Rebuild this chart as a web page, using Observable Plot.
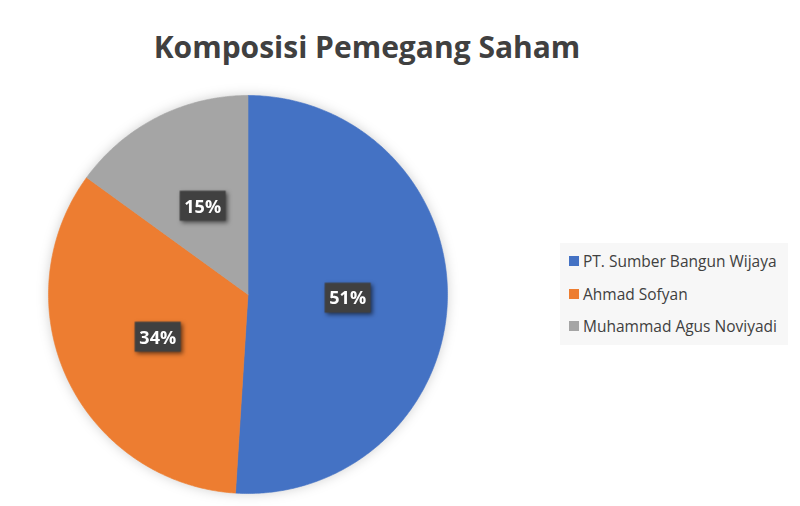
<!DOCTYPE html>
<html>
<head>
<meta charset="utf-8">
<script src="https://cdn.jsdelivr.net/npm/d3@7"></script>
<script src="https://cdn.jsdelivr.net/npm/@observablehq/plot@0.6"></script>
<style>
  html, body { margin: 0; padding: 0; background: #fff; }
  #wrap { position: relative; width: 800px; height: 506px; overflow: hidden; font-family: "Open Sans", sans-serif; }
  #title { position: absolute; left: 0; width: 734px; top: 26px; text-align: center; font-size: 30px; font-weight: 700; color: #404040; }
  #legend { position: absolute; left: 560px; top: 243px; width: 228px; height: 102px; background: #f7f7f7; box-sizing: border-box; padding-top: 2px; }
  .item { display: flex; align-items: center; height: 32.5px; padding-left: 9px; color: #404040; font-size: 15.5px; white-space: nowrap; }
  .sw { width: 10px; height: 10px; margin-right: 4px; flex: none; }
  #chart { position: absolute; left: 0; top: 0; }
  #chart g[aria-label="line"] { filter: drop-shadow(0 0 6px rgba(0,0,0,0.18)); }
  #chart g[aria-label="dot"] { filter: drop-shadow(2px 2px 2px rgba(0,0,0,0.55)); }
</style>
</head>
<body>
<div id="wrap">
  <div id="chart"></div>
  <div id="title"></div>
  <div id="legend"></div>
</div>
<script>
const titleText = "Komposisi Pemegang Saham";
const categories = ["PT. Sumber Bangun Wijaya", "Ahmad Sofyan", "Muhammad Agus Noviyadi"];
const shares = [51, 34, 15];
const colors = ["#4472C4", "#ED7D31", "#A5A5A5"];

document.getElementById("title").textContent = titleText;

const data = categories.map((name, i) => ({name, value: shares[i]}));
const arcs = d3.pie().sort(null).value(d => d.value)(data);

// Build slice polygons (unit circle coordinates, angle clockwise from top)
const pts = [];
for (const a of arcs) {
  const n = Math.max(2, Math.ceil((a.endAngle - a.startAngle) / 0.01));
  pts.push({name: a.data.name, x: 0, y: 0});
  for (let k = 0; k <= n; k++) {
    const t = a.startAngle + (a.endAngle - a.startAngle) * k / n;
    pts.push({name: a.data.name, x: Math.sin(t), y: Math.cos(t)});
  }
  pts.push({name: a.data.name, x: 0, y: 0});
}
const labels = arcs.map(a => {
  const m = (a.startAngle + a.endAngle) / 2;
  return {name: a.data.name, x: 0.5 * Math.sin(m), y: 0.5 * Math.cos(m), text: a.data.value + "%"};
});

const boxSymbol = { draw(ctx, size) { ctx.moveTo(-23, -15); ctx.lineTo(23, -15); ctx.lineTo(23, 15); ctx.lineTo(-23, 15); ctx.closePath(); } };

const plot = Plot.plot({
  width: 800,
  height: 506,
  marginLeft: 48,
  marginRight: 800 - 447,
  marginTop: 95,
  marginBottom: 506 - 493,
  x: {domain: [-1, 1], axis: null},
  y: {domain: [-1, 1], axis: null},
  color: {domain: categories, range: colors},
  style: {background: "transparent", overflow: "visible"},
  marks: [
    Plot.line(pts, {x: "x", y: "y", z: "name", fill: "name", stroke: "name", strokeWidth: 0.6, curve: "linear"}),
    Plot.dot(labels, {x: "x", y: "y", symbol: boxSymbol, r: 10, fill: "#404040", stroke: "none"}),
    Plot.text(labels, {x: "x", y: "y", text: "text", fill: "white", fontSize: 18, fontWeight: 700, fontFamily: "Open Sans, sans-serif", dy: 1})
  ]
});
document.getElementById("chart").appendChild(plot);

const legend = document.getElementById("legend");
categories.forEach((c, i) => {
  const it = document.createElement("div");
  it.className = "item";
  const sw = document.createElement("span");
  sw.className = "sw";
  sw.style.background = colors[i];
  const tx = document.createElement("span");
  tx.textContent = c;
  it.appendChild(sw); it.appendChild(tx);
  legend.appendChild(it);
});
</script>
</body>
</html>
